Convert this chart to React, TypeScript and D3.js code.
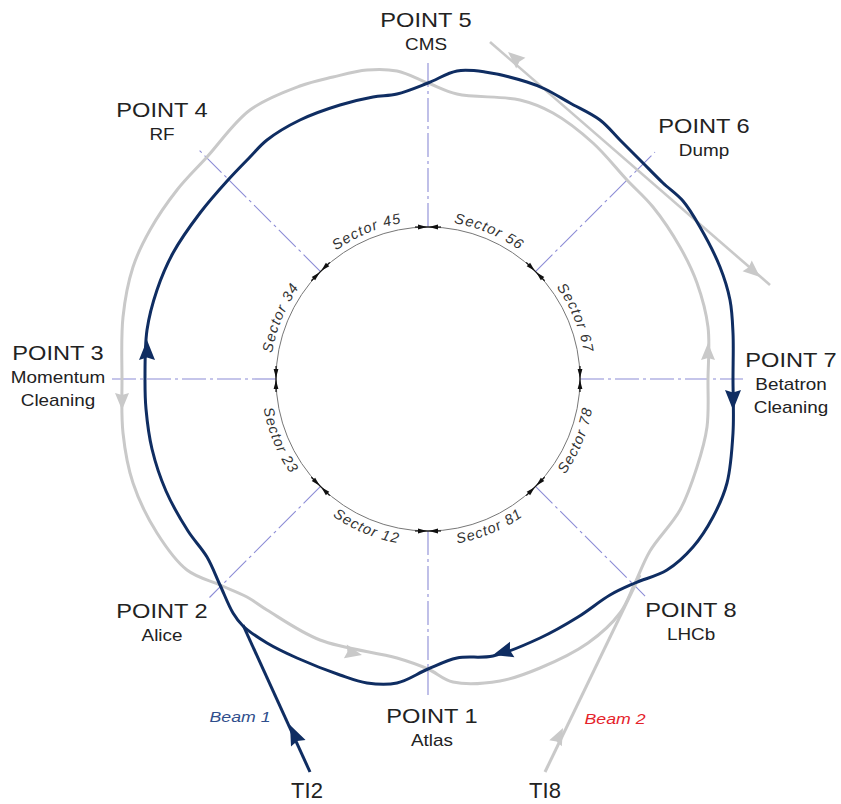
import React from "react";
import * as d3 from "d3";

const W = 841;
const H = 804;

// ---------- data ----------
const pointTitles = ["POINT 1", "POINT 2", "POINT 3", "POINT 4", "POINT 5", "POINT 6", "POINT 7", "POINT 8"];
const pointSubtitles = [["Atlas"], ["Alice"], ["Momentum", "Cleaning"], ["RF"], ["CMS"], ["Dump"], ["Betatron", "Cleaning"], ["LHCb"]];
const pointAngles = [90, 135, 180, 225, 270, 315, 0, 45];
const markerOuterRadius = [316, 309, 318, 323, 316, 321, 315, 307];

const sectorNames = ["Sector 12", "Sector 23", "Sector 34", "Sector 45", "Sector 56", "Sector 67", "Sector 78", "Sector 81"];
const sectorMidAngles = [112.5, 157.5, 202.5, 247.5, 292.5, 337.5, 22.5, 67.5];

// beam traces, offsets from the ring centre
const beam1Ring: [number, number][] = [
  [0, 290], [-31, 304], [-61, 304], [-88, 296], [-131, 279], [-161, 264], [-185, 247], [-195, 234],
  [-208, 206], [-221, 178], [-240, 152], [-262, 112], [-276, 70], [-282, 30], [-283, 0],
  [-281, -49], [-271, -89], [-255, -126], [-228, -166], [-200, -199], [-178, -222], [-161, -239],
  [-128, -259], [-88, -274], [-55, -282], [-31, -285], [0, -296],
  [29, -308], [57, -307], [99, -297], [117, -290], [142, -276], [172, -259], [192, -239],
  [214, -217], [235, -196], [255, -178], [272, -152], [292, -112], [302, -79], [305, -46],
  [305, 0], [305, 54], [299, 104], [285, 138], [265, 168], [239, 191], [207, 204],
  [182, 216], [150, 238], [112, 259], [65, 277], [29, 279],
];
const beam2Ring: [number, number][] = [
  [0, 290], [25, 303], [72, 302], [112, 289], [160, 264], [192, 234], [207, 204],
  [222, 172], [252, 131], [269, 88], [279, 48], [280, 0], [280, -52],
  [269, -96], [252, -132], [225, -172], [199, -199], [165, -236], [125, -266], [92, -279],
  [29, -285], [0, -296], [-31, -308], [-61, -309], [-95, -302], [-128, -293], [-178, -269],
  [-221, -222], [-251, -189], [-278, -149], [-295, -112], [-305, -62], [-306, 0], [-305, 54],
  [-295, 104], [-271, 154], [-241, 191], [-208, 206], [-181, 218], [-161, 231], [-108, 261],
  [-31, 279],
];
const beam1Injection: [number, number][] = [[-118, 393], [-185, 246]];
const beam2Injection: [number, number][] = [[117, 393], [212, 196]];
const dumpLine: [number, number][] = [[62, -337], [342, -94]];

// arrows: [x, y, direction in degrees]
const beam1Arrows: [number, number, number][] = [[-281, -39, -90], [305, 31, 90], [65, 276, 164], [-138, 346, 245.5]];
const beam2Arrows: [number, number, number][] = [[-306, 31, 90], [280, -36, -90], [-66, 276, 12], [135, 349, -64], [80, -327, 221], [332, -102, 41]];

const injectionNames = ["TI2", "TI8"];
const beamNames = ["Beam 1", "Beam 2"];

// ---------- layout ----------
const CX = 428;
const CY = 379;
const INNER_R = 152;
const labelPos: [number, number][] = [[4, 344], [-266, 239], [-370, -19], [-266, -262], [-2, -352], [276, -246], [363, -12], [263, 238]];
const injectionLabelPos: [number, number][] = [[-121, 419], [117, 419]];
const beamLabelPos: [number, number][] = [[-188, 343], [187, 345]];

const BLUE = "#0f2d62";
const GRAY = "#c9c9c9";
const DASH = "#8c8cd6";
const FONT = "'Liberation Sans', Arial, Helvetica, sans-serif";

export default function App() {
  const x = d3.scaleLinear().domain([-CX, W - CX]).range([0, W]);
  const y = d3.scaleLinear().domain([-CY, H - CY]).range([0, H]);
  const rad = (deg: number) => (deg * Math.PI) / 180;
  const polar = (deg: number, r: number): [number, number] => [x(r * Math.cos(rad(deg))), y(r * Math.sin(rad(deg)))];

  const ringLine = d3
    .line<[number, number]>()
    .x((d) => x(d[0]))
    .y((d) => y(d[1]))
    .curve(d3.curveCatmullRomClosed.alpha(0.5));
  const straight = d3
    .line<[number, number]>()
    .x((d) => x(d[0]))
    .y((d) => y(d[1]));

  const arrow = (a: [number, number, number], len: number, wid: number, color: string, key: string) => (
    <path
      key={key}
      d={`M0,0 L${-len},${-wid / 2} L${-len * 0.88},0 L${-len},${wid / 2} Z`}
      fill={color}
      transform={`translate(${x(a[0])},${y(a[1])}) rotate(${a[2]})`}
    />
  );

  const sectorPath = (mid: number) => {
    const p = d3.path();
    const top = Math.sin(rad(mid)) < 0;
    if (top) {
      p.arc(x(0), y(0), INNER_R + 6, rad(mid - 30), rad(mid + 30), false);
    } else {
      p.arc(x(0), y(0), INNER_R + 15, rad(mid + 30), rad(mid - 30), true);
    }
    return p.toString();
  };

  const STRETCH = 1.18;

  return (
    <svg width={W} height={H} style={{ position: "absolute", left: 0, top: 0, background: "#fff" }} fontFamily={FONT}>
      <rect width={W} height={H} fill="#fff" />
      {/* radial dash-dot markers */}
      {pointAngles.map((a, i) => {
        const [x1, y1] = polar(a, INNER_R);
        const [x2, y2] = polar(a, markerOuterRadius[i]);
        return <line key={`m${i}`} x1={x1} y1={y1} x2={x2} y2={y2} stroke={DASH} strokeWidth={1.1} strokeDasharray="24,4,3,4" />;
      })}
      {/* inner circle */}
      <circle cx={x(0)} cy={y(0)} r={INNER_R} fill="none" stroke="#777" strokeWidth={1} />
      {pointAngles.map((a, i) => {
        const [px, py] = polar(a, INNER_R);
        return (
          <g key={`t${i}`} transform={`translate(${px},${py}) rotate(${a + 90})`}>
            <path d="M-1,0 L-10,-2.4 L-10,2.4 Z" fill="#111" />
            <path d="M1,0 L10,-2.4 L10,2.4 Z" fill="#111" />
            <line x1={-13} x2={13} y1={0} y2={0} stroke="#111" strokeWidth={1.2} />
          </g>
        );
      })}
      {/* sector labels */}
      <defs>
        {sectorMidAngles.map((m, i) => (
          <path key={`sp${i}`} id={`sec${i}`} d={sectorPath(m)} fill="none" />
        ))}
      </defs>
      {sectorNames.map((s, i) => (
        <text key={`s${i}`} fontSize={14.5} fontStyle="italic" fill="#333" letterSpacing={1.1}>
          <textPath href={`#sec${i}`} startOffset="50%" textAnchor="middle">
            {s}
          </textPath>
        </text>
      ))}
      {/* beams */}
      <path d={ringLine(beam2Ring) || ""} fill="none" stroke={GRAY} strokeWidth={3} strokeLinejoin="round" />
      <path d={straight(beam2Injection) || ""} fill="none" stroke={GRAY} strokeWidth={3} />
      <path d={straight(dumpLine) || ""} fill="none" stroke={GRAY} strokeWidth={2.6} />
      <path d={ringLine(beam1Ring) || ""} fill="none" stroke={BLUE} strokeWidth={3} strokeLinejoin="round" />
      <path d={straight(beam1Injection) || ""} fill="none" stroke={BLUE} strokeWidth={3} />
      {beam2Arrows.map((a, i) => arrow(a, 17, 14, GRAY, `ga${i}`))}
      {beam1Arrows.map((a, i) => arrow(a, 20, 16, BLUE, `ba${i}`))}
      {/* point labels */}
      {pointTitles.map((t, i) => (
        <g key={`l${i}`} transform={`translate(${x(labelPos[i][0])},${y(labelPos[i][1])}) scale(${STRETCH},1)`}>
          <text textAnchor="middle" fontSize={20} fill="#222">
            {t}
          </text>
          {pointSubtitles[i].map((s, j) => (
            <text key={j} textAnchor="middle" y={23 + j * 23} fontSize={16} fill="#222">
              {s}
            </text>
          ))}
        </g>
      ))}
      {injectionNames.map((t, i) => (
        <text key={`in${i}`} x={x(injectionLabelPos[i][0])} y={y(injectionLabelPos[i][1])} textAnchor="middle" fontSize={22} fill="#222">
          {t}
        </text>
      ))}
      {beamNames.map((t, i) => (
        <g key={`bn${i}`} transform={`translate(${x(beamLabelPos[i][0])},${y(beamLabelPos[i][1])}) scale(${STRETCH},1)`}>
          <text textAnchor="middle" fontSize={15} fontStyle="italic" fill={i === 0 ? "#2f4e8c" : "#e5222b"}>
            {t}
          </text>
        </g>
      ))}
    </svg>
  );
}
